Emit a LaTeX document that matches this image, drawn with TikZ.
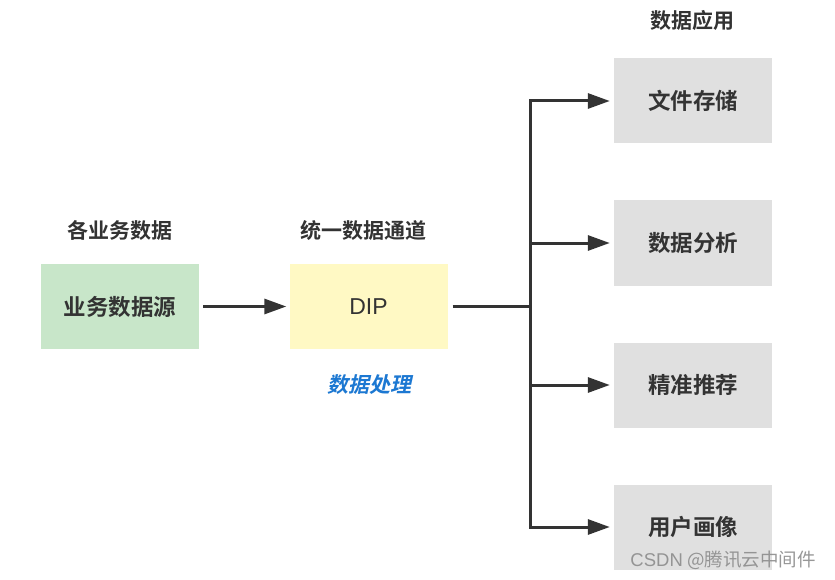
\documentclass[tikz,border=0pt]{standalone}
\usepackage{fontspec}
\setmainfont{Noto Sans CJK SC}[BoldFont={Noto Sans CJK SC Bold}]
\newfontfamily\slantcjk{Noto Sans CJK SC Bold}[FakeSlant=0.22]
\newfontfamily\latinsans{Liberation Sans}
\usetikzlibrary{arrows.meta}
\definecolor{linec}{HTML}{333333}
\definecolor{txtc}{HTML}{333333}
\definecolor{greenc}{HTML}{C8E6C9}
\definecolor{yellowc}{HTML}{FFF9C4}
\definecolor{grayc}{HTML}{E0E0E0}
\definecolor{bluec}{HTML}{1C78D2}
\tikzset{
  box/.style={minimum width=158pt, minimum height=85pt, inner sep=0pt, text=txtc, font=\fontsize{22.5}{26}\selectfont\bfseries},
  title/.style={text=txtc, inner sep=0pt, font=\fontsize{21}{24}\selectfont\bfseries},
  conn/.style={draw=linec, line width=3pt},
  arr/.style={conn, -{Triangle[length=22pt,width=15pt]}},
}
\begin{document}
\begin{tikzpicture}[x=1pt,y=-1pt]
\useasboundingbox[fill=white] (0,0) rectangle (835,580);
\node[box, fill=greenc] (src) at (120,306.5) {业务数据源};
\node[box, fill=yellowc, font=\fontsize{23}{26}\selectfont\latinsans] (dip) at (368.5,306.5) {DIP};
\node[box, fill=grayc] (a1) at (693,101) {文件存储};
\node[box, fill=grayc] (a2) at (693,243) {数据分析};
\node[box, fill=grayc] (a3) at (693,385) {精准推荐};
\node[box, fill=grayc] (a4) at (693,527) {用户画像};
\node[title] (t1) at (120,230) {各业务数据};
\node[title] (t2) at (363,230) {统一数据通道};
\node[title] (t3) at (692,21) {数据应用};
\node[inner sep=0pt, text=bluec, font=\fontsize{21}{24}\selectfont\slantcjk] (t4) at (369,385) {数据处理};
\coordinate (j) at (530,306.5);
\draw[arr, shorten <=4pt, shorten >=3pt] (src.east) -- (dip.west);
\draw[conn, shorten <=5pt] (dip.east) -- (j);
\draw[arr, shorten >=4pt] (j) |- (a1.west);
\draw[arr, shorten >=4pt] (j) |- (a2.west);
\draw[arr, shorten >=4pt] (j) |- (a3.west);
\draw[arr, shorten >=4pt] (j) |- (a4.west);
\node[inner sep=0pt, text=black!45, opacity=0.9, font=\fontsize{18.5}{22}\selectfont] (wm) at (723,560) {{\latinsans CSDN} @腾讯云中间件};
\end{tikzpicture}
\end{document}
